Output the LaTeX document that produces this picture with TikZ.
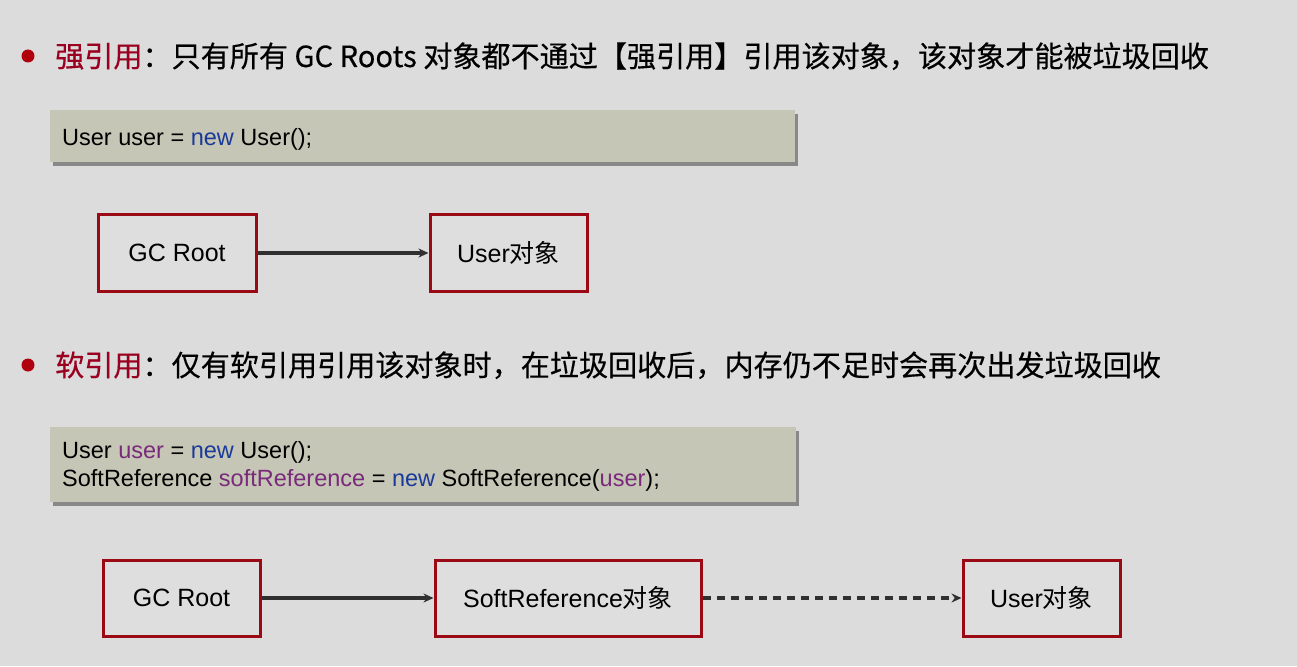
\documentclass[tikz,border=0pt]{standalone}
\usepackage{fontspec}
\setmainfont{Liberation Sans}
\newfontfamily\cjk{Noto Sans CJK SC}
\newfontfamily\cjkhead[FakeBold=0.4]{Noto Sans CJK SC}
\usetikzlibrary{shadows,arrows.meta}
\definecolor{bgc}{HTML}{DCDCDC}
\definecolor{headred}{HTML}{9A0020}
\definecolor{dotred}{HTML}{B0000E}
\definecolor{boxred}{HTML}{9B0A14}
\definecolor{codefill}{HTML}{C6C6B6}
\definecolor{kwblue}{HTML}{1A3A9A}
\definecolor{varpurple}{HTML}{7A2A7A}
\definecolor{arrowc}{HTML}{303030}
\tikzset{
  objbox/.style={draw=boxred, line width=3pt, fill=bgc!95!white, minimum height=77pt, inner sep=0pt, font=\fontsize{25}{30}\selectfont},
  codebox/.style={fill=codefill, inner sep=0pt, drop shadow={shadow xshift=3pt, shadow yshift=-4pt, fill=black!55, opacity=0.8}},
  codetext/.style={anchor=base west, inner sep=0pt, font=\fontsize{23.5}{28}\selectfont},
  headtext/.style={anchor=base west, inner sep=0pt, font=\cjkhead\fontsize{29.1}{34}\selectfont},
  bulletdot/.style={circle, fill=dotred, minimum size=13pt, inner sep=0pt},
  refarrow/.style={draw=arrowc, line width=3.2pt, -{Stealth[length=10pt,width=9pt]}},
  softarrow/.style={refarrow, dash pattern=on 8pt off 6pt}
}
\begin{document}
\begin{tikzpicture}[x=1pt,y=1pt]
\fill[bgc] (0,0) rectangle (1297,-666);
\useasboundingbox (0,0) rectangle (1297,-666);

% heading 1
\node[bulletdot] (b1) at (28,-56) {};
\node[headtext] (h1) at (55,-67) {\textcolor{headred}{强引用}：只有所有 GC Roots 对象都不通过【强引用】引用该对象，该对象才能被垃圾回收};

% code box 1
\node[codebox, minimum width=745pt, minimum height=52pt] (c1) at (422.5,-136) {};
\node[codetext] (c1t) at (62,-146) {User user = \textcolor{kwblue}{new} User();};

% strong reference diagram
\node[objbox, minimum width=158pt] (gc1) at (177,-253) {GC Root};
\node[objbox, minimum width=157pt] (u1) at (508.5,-253) {User{\cjk 对象}};
\draw[refarrow] (gc1) -- (u1);

% heading 2
\node[bulletdot] (b2) at (28,-365) {};
\node[headtext] (h2) at (55,-376) {\textcolor{headred}{软引用}：仅有软引用引用该对象时，在垃圾回收后，内存仍不足时会再次出发垃圾回收};

% code box 2
\node[codebox, minimum width=746pt, minimum height=75pt] (c2) at (423,-464.5) {};
\node[codetext] (c2a) at (62,-458) {User \textcolor{varpurple}{user} = \textcolor{kwblue}{new} User();};
\node[codetext] (c2b) at (62,-486) {SoftReference \textcolor{varpurple}{softReference} = \textcolor{kwblue}{new} SoftReference(\textcolor{varpurple}{user});};

% soft reference diagram
\node[objbox, minimum width=157pt, minimum height=76pt] (gc2) at (181.5,-598) {GC Root};
\node[objbox, minimum width=266pt, minimum height=76pt] (sr) at (568,-598) {SoftReference{\cjk 对象}};
\node[objbox, minimum width=157pt, minimum height=76pt] (u2) at (1041.5,-598) {User{\cjk 对象}};
\draw[refarrow] (gc2) -- (sr);
\draw[softarrow] (sr) -- (u2);
\end{tikzpicture}
\end{document}
